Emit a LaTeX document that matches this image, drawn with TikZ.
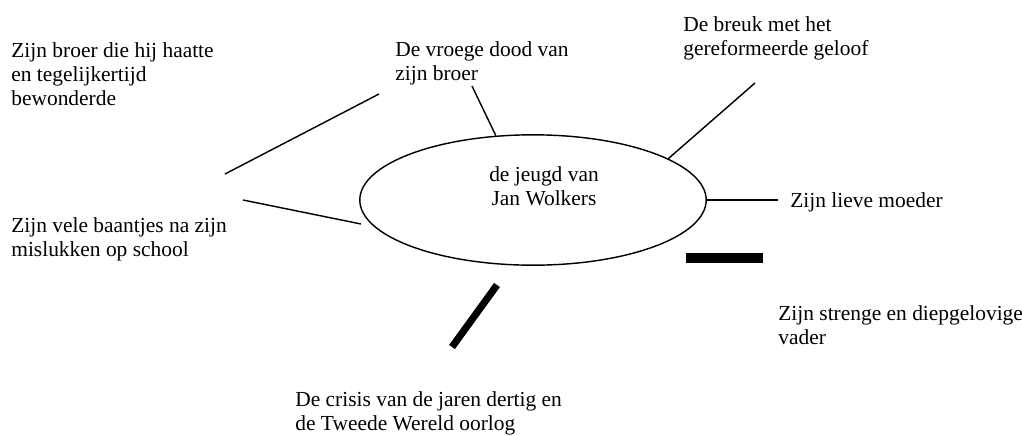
\documentclass[tikz,border=0pt]{standalone}
\usepackage{fontspec}
\setmainfont{Liberation Serif}
\usetikzlibrary{shapes.geometric}

\begin{document}
\begin{tikzpicture}[x=0.56pt, y=-0.56pt,
    hub/.style={draw, ellipse, line width=0.8pt, minimum width=194pt, minimum height=73pt, inner sep=0pt},
    leaf/.style={anchor=north west, inner sep=0pt, align=left},
    spoke/.style={line width=0.8pt},
    heavy/.style={line width=4pt}]
    \useasboundingbox (0,0) rectangle (1022,435);
    \fontsize{12}{13.6}\selectfont

    % Centre
    \node[hub] (jeugd) at (533,200) {};
    \node[align=center, inner sep=0pt] (titel) at (544,186) {de jeugd van\\Jan Wolkers};

    % Themes round it
    \node[leaf] (broer) at (11,42) {Zijn broer die hij haatte\\en tegelijkertijd\\bewonderde};
    \node[leaf] (baantjes) at (11,217) {Zijn vele baantjes na zijn\\mislukken op school};
    \node[leaf] (dood) at (395,41) {De vroege dood van\\zijn broer};
    \node[leaf] (breuk) at (683,16) {De breuk met het\\gereformeerde geloof};
    \node[leaf] (moeder) at (790,192) {Zijn lieve moeder};
    \node[leaf] (vader) at (778,305) {Zijn strenge en diepgelovige\\vader};
    \node[leaf] (crisis) at (295,391) {De crisis van de jaren dertig en\\de Tweede Wereld oorlog};

    % Free ends of the spokes
    \coordinate (broerA) at (225,174);
    \coordinate (broerB) at (379,94);
    \coordinate (baantjesA) at (243,200);
    \coordinate (baantjesB) at (361,224);
    \coordinate (doodA) at (472,86);
    \coordinate (breukA) at (755,83);
    \coordinate (moederA) at (778,200);
    \coordinate (vaderA) at (686,258);
    \coordinate (vaderB) at (763,258);
    \coordinate (crisisA) at (497,285);
    \coordinate (crisisB) at (452,347);

    % Spokes
    \draw[spoke] (broerA) -- (broerB);
    \draw[spoke] (baantjesA) -- (baantjesB);
    \draw[spoke] (doodA) -- (jeugd.120);
    \draw[spoke] (breukA) -- (jeugd.17);
    \draw[spoke] (jeugd.east) -- (moederA);
    \draw[heavy, line width=5.6pt] (vaderA) -- (vaderB);
    \draw[heavy] (crisisA) -- (crisisB);
\end{tikzpicture}
\end{document}
